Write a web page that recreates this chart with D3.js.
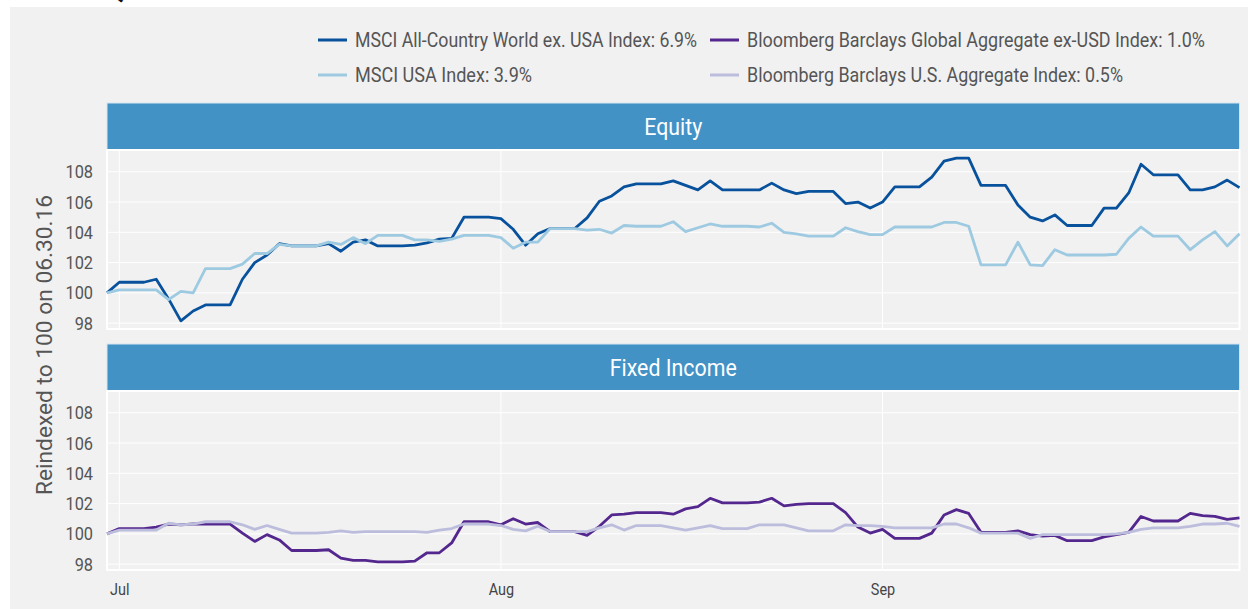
<!DOCTYPE html>
<html><head><meta charset="utf-8">
<script src="https://cdn.jsdelivr.net/npm/d3@7"></script>
<style>
body{margin:0;background:#fff;}
text{font-family:"Roboto","Liberation Sans",sans-serif;}
</style>
</head><body>
<svg id="c" width="1248" height="609"></svg>
<script>
// ---- data ----
const startDate = "2016-06-30";
const endDate = "2016-09-30";
const xTickLabels = ["Jul", "Aug", "Sep"];
const xTickDates = ["2016-07-01", "2016-08-01", "2016-09-01"];
const yTicks = [98, 100, 102, 104, 106, 108];
const facetTitles = ["Equity", "Fixed Income"];
const seriesNames = [
  "MSCI All-Country World ex. USA Index: 6.9%",
  "MSCI USA Index: 3.9%",
  "Bloomberg Barclays Global Aggregate ex-USD Index: 1.0%",
  "Bloomberg Barclays U.S. Aggregate Index: 0.5%"
];
const seriesColors = ["#08519c", "#9ecae1", "#54278f", "#bcbddc"];

const acwiExUSA = [100.0,100.7,100.7,100.7,100.9,99.6,98.15,98.8,99.2,99.2,99.2,100.9,102.0,102.5,103.25,103.1,103.1,103.1,103.25,102.75,103.35,103.5,103.1,103.1,103.1,103.15,103.3,103.55,103.6,105.0,105.0,105.0,104.9,104.2,103.15,103.9,104.25,104.25,104.25,104.95,106.05,106.4,107.0,107.2,107.2,107.2,107.4,107.1,106.8,107.4,106.8,106.8,106.8,106.8,107.25,106.8,106.55,106.7,106.7,106.7,105.9,106.0,105.6,106.0,107.0,107.0,107.0,107.65,108.7,108.9,108.9,107.1,107.1,107.1,105.8,105.0,104.75,105.15,104.45,104.45,104.45,105.6,105.6,106.6,108.5,107.8,107.8,107.8,106.8,106.8,107.0,107.45,106.95];
const msciUSA = [100.0,100.2,100.2,100.2,100.2,99.55,100.1,100.0,101.6,101.6,101.6,101.9,102.6,102.6,103.2,103.1,103.1,103.1,103.35,103.2,103.65,103.25,103.8,103.8,103.8,103.5,103.5,103.4,103.55,103.8,103.8,103.8,103.65,102.95,103.35,103.35,104.25,104.25,104.25,104.15,104.2,103.95,104.45,104.4,104.4,104.4,104.7,104.05,104.3,104.55,104.4,104.4,104.4,104.35,104.6,104.0,103.9,103.75,103.75,103.75,104.3,104.05,103.85,103.85,104.35,104.35,104.35,104.35,104.65,104.65,104.4,101.85,101.85,101.85,103.35,101.85,101.8,102.85,102.5,102.5,102.5,102.5,102.55,103.6,104.35,103.75,103.75,103.75,102.85,103.5,104.05,103.1,103.9];
const globalAggExUSD = [100.0,100.35,100.35,100.35,100.45,100.65,100.6,100.65,100.65,100.65,100.65,100.05,99.5,99.95,99.6,98.9,98.9,98.9,98.95,98.4,98.25,98.25,98.15,98.15,98.15,98.2,98.75,98.75,99.4,100.8,100.8,100.8,100.6,101.0,100.65,100.75,100.15,100.15,100.15,99.9,100.5,101.25,101.3,101.4,101.4,101.4,101.3,101.65,101.8,102.35,102.05,102.05,102.05,102.1,102.35,101.85,101.95,102.0,102.0,102.0,101.4,100.45,100.05,100.3,99.7,99.7,99.7,100.05,101.25,101.6,101.35,100.1,100.1,100.1,100.2,99.95,99.85,99.9,99.55,99.55,99.55,99.8,99.95,100.1,101.15,100.85,100.85,100.85,101.35,101.2,101.15,100.95,101.05];
const usAgg = [100.0,100.25,100.25,100.25,100.25,100.7,100.6,100.65,100.8,100.8,100.8,100.6,100.3,100.55,100.3,100.05,100.05,100.05,100.1,100.2,100.1,100.15,100.15,100.15,100.15,100.15,100.1,100.25,100.35,100.65,100.65,100.65,100.55,100.3,100.2,100.5,100.15,100.15,100.15,100.15,100.4,100.6,100.25,100.55,100.55,100.55,100.4,100.25,100.4,100.55,100.35,100.35,100.35,100.6,100.6,100.6,100.4,100.2,100.2,100.2,100.6,100.55,100.55,100.5,100.4,100.4,100.4,100.4,100.65,100.65,100.4,100.05,100.05,100.05,100.05,99.7,99.95,99.95,99.95,99.95,99.95,99.95,100.0,100.1,100.3,100.4,100.4,100.4,100.5,100.65,100.65,100.7,100.5];

// ---- build ----
const parse = d3.timeParse("%Y-%m-%d");
const t0 = parse(startDate), t1 = parse(endDate);
const dates = d3.timeDay.range(t0, d3.timeDay.offset(t1, 1));
const allSeries = [acwiExUSA, msciUSA, globalAggExUSD, usAgg];
const facets = [
  {title: facetTitles[0], idx: [0, 1], stripTop: 103, w: 58},
  {title: facetTitles[1], idx: [2, 3], stripTop: 344, w: 127}
];
const stripH = 47, plotH = 179;
const left = 107, right = 1239.5;

function squeeze(sel, ratio) {
  sel.each(function() {
    const w = this.getComputedTextLength();
    d3.select(this).attr("textLength", w * ratio).attr("lengthAdjust", "spacingAndGlyphs");
  });
}

const svg = d3.select("#c");
svg.append("rect").attr("x", 10).attr("y", 7).attr("width", 1238).attr("height", 602).attr("fill", "#f1f1f1");
// cut-off title (mostly above the page edge, as in the reference)
svg.append("text").attr("x", 12).attr("y", -0.5).attr("font-size", 22).attr("font-weight", "bold")
  .attr("fill", "#111").text("Exhibit 1: Q3 2016 Market Performance");

const x = d3.scaleTime().domain([t0, t1]).range([left, right]);
const ext = d3.extent(allSeries.flat());
const pad = (ext[1] - ext[0]) * 0.05;

facets.forEach(f => {
  const top = f.stripTop + stripH, bottom = top + plotH;
  const y = d3.scaleLinear().domain([ext[0] - pad, ext[1] + pad]).range([bottom, top]);
  const g = svg.append("g");
  g.append("rect").attr("x", left).attr("y", f.stripTop).attr("width", right - left).attr("height", stripH)
    .attr("fill", "#4292c6").attr("stroke", "#d6e4f0").attr("stroke-width", 1);
  g.append("text").attr("x", (left + right) / 2).attr("y", f.stripTop + stripH / 2 + 1)
    .attr("text-anchor", "middle").attr("dominant-baseline", "central")
    .attr("font-size", 23).attr("fill", "#fff").text(f.title)
    .attr("textLength", f.w).attr("lengthAdjust", "spacingAndGlyphs");
  g.append("g").selectAll("line").data(yTicks).join("line")
    .attr("x1", left).attr("x2", right).attr("y1", d => y(d)).attr("y2", d => y(d))
    .attr("stroke", "#fff").attr("stroke-width", 1);
  g.append("g").selectAll("line").data(xTickDates).join("line")
    .attr("x1", d => x(parse(d))).attr("x2", d => x(parse(d))).attr("y1", top).attr("y2", bottom)
    .attr("stroke", "#fff").attr("stroke-width", 1);
  g.append("rect").attr("x", left).attr("y", top).attr("width", right - left).attr("height", plotH)
    .attr("fill", "none").attr("stroke", "#fff").attr("stroke-width", 2);
  const ya = d3.axisLeft(y).tickValues(yTicks).tickSize(0).tickPadding(14);
  const ag = g.append("g").attr("transform", `translate(${left},0)`).call(ya);
  ag.select(".domain").remove();
  ag.selectAll("text").attr("font-size", 19).attr("fill", "#555").style("font-family", null)
    .call(squeeze, 0.86);
  const line = d3.line().x((d, i) => x(dates[i])).y(d => y(d));
  f.idx.forEach(k => {
    g.append("path").datum(allSeries[k]).attr("d", line).attr("fill", "none")
      .attr("stroke", seriesColors[k]).attr("stroke-width", 2.8).attr("stroke-linejoin", "round");
  });
});

const xa = d3.axisBottom(x).tickValues(xTickDates.map(parse)).tickSize(0).tickPadding(0)
  .tickFormat((d, i) => xTickLabels[i]);
const xg = svg.append("g").attr("transform", "translate(0,583)").call(xa);
xg.select(".domain").remove();
xg.selectAll("text").attr("font-size", 17).attr("fill", "#444").style("font-family", null)
  .call(squeeze, 0.85);

const yt = svg.append("text").attr("transform", "translate(52,345) rotate(-90)").attr("text-anchor", "middle")
  .attr("font-size", 22).attr("fill", "#555").text("Reindexed to 100 on 06.30.16");
yt.attr("textLength", 300).attr("lengthAdjust", "spacingAndGlyphs");

const legPos = [[318, 40], [318, 75], [710, 40], [710, 75]];
const legW = [342, 177, 458, 376];
seriesNames.forEach((n, i) => {
  const [lx, ly] = legPos[i];
  svg.append("line").attr("x1", lx).attr("x2", lx + 29).attr("y1", ly).attr("y2", ly)
    .attr("stroke", seriesColors[i]).attr("stroke-width", 3);
  svg.append("text").attr("x", lx + 37).attr("y", ly).attr("dominant-baseline", "central")
    .attr("font-size", 19.5).attr("fill", "#555").text(n)
    .attr("textLength", legW[i]).attr("lengthAdjust", "spacingAndGlyphs");
});
</script>
</body></html>
